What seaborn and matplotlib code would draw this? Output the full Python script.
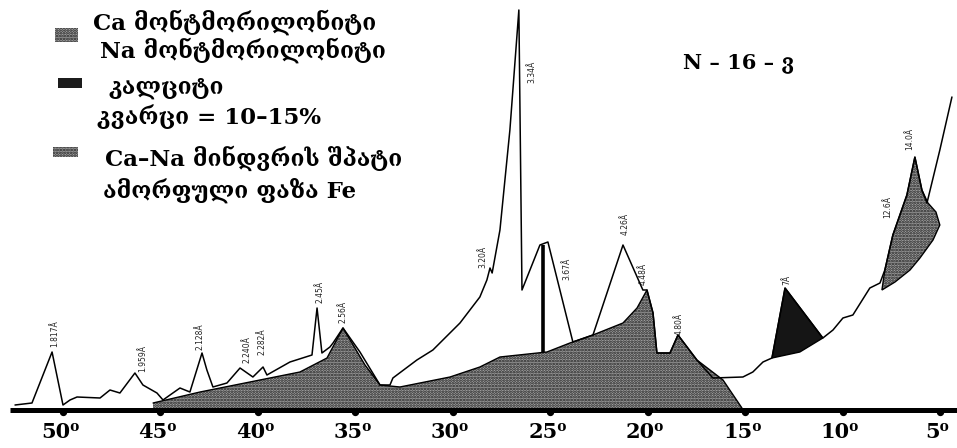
import matplotlib
matplotlib.use("Agg")
import matplotlib.pyplot as plt
from matplotlib.patches import Rectangle, Polygon
import pandas as pd
import seaborn as sns

# Total diffraction trace: 2θ (degrees) and relative intensity
two_theta = [52.46, 51.59, 50.56, 50.0, 49.64, 49.28, 48.10, 47.59, 47.08, 46.31,
             45.90, 45.18, 44.87, 44.51, 44.0, 43.49, 42.87, 42.62, 42.31, 41.59,
             40.92, 40.26, 39.74, 39.54, 38.36, 37.23, 36.97, 36.72, 36.31, 36.15,
             35.64, 34.77, 33.74, 33.23, 33.08, 31.85, 31.03, 29.64, 28.62, 28.26,
             28.10, 27.99, 27.59, 27.08, 26.62, 26.46, 25.54, 25.13, 23.85, 22.82,
             21.28, 20.26, 20.05, 19.74, 19.54, 18.87, 18.46, 17.49, 16.67, 15.13,
             14.62, 14.10, 13.64, 12.97, 11.03, 10.51, 10.0, 9.49, 8.62, 8.10,
             7.85, 7.44, 7.08, 6.72, 6.31, 5.95, 5.69, 5.03, 4.41]
intensity = [5, 7, 58, 5, 10, 13, 12, 20, 17, 37,
             25, 17, 10, 15, 22, 18, 57, 40, 23, 27,
             42, 33, 43, 35, 48, 55, 102, 57, 63, 67,
             82, 58, 25, 25, 32, 50, 60, 87, 113, 130,
             142, 137, 180, 280, 400, 120, 165, 168, 68, 75,
             165, 120, 120, 97, 57, 57, 75, 50, 32, 33,
             38, 48, 52, 122, 72, 80, 92, 95, 122, 127,
             140, 175, 195, 215, 253, 220, 207, 260, 313]

# Smectite / feldspar / amorphous envelope
bg_theta = [45.38, 42.97, 37.85, 36.46, 35.64, 34.51, 33.74, 32.72, 30.15, 28.62,
            27.59, 25.18, 24.0, 22.82, 21.28, 20.56, 20.05, 19.74, 19.54, 18.87,
            18.46, 17.49, 16.15, 15.18]
bg_int = [7, 18, 38, 52, 82, 45, 25, 23, 33, 43,
          53, 58, 67, 75, 87, 102, 120, 97, 57, 57,
          75, 50, 30, 2]

# Calcite reflection outline
calcite_theta = [13.64, 12.97, 11.03, 12.21]
calcite_int = [52, 122, 72, 58]

# Basal montmorillonite reflection outline
mont_theta = [8.0, 7.85, 7.44, 7.08, 6.72, 6.31, 5.95, 5.64, 5.23, 5.03,
              5.38, 6.05, 6.56, 7.33]
mont_int = [120, 140, 175, 195, 215, 253, 220, 207, 198, 185,
            170, 152, 140, 128]

# Strong line at 25.4°
line_theta = 25.38
line_top = 165
line_base = 58

# d-spacing annotations
label_theta = [50.41, 45.90, 42.97, 40.56, 39.79, 36.82, 35.64, 28.46, 25.95,
               24.15, 21.18, 20.26, 18.41, 12.87, 7.69, 6.56]
label_base = [63, 38, 60, 47, 55, 107, 87, 142, 327,
              130, 175, 125, 75, 125, 192, 260]
label_text = ["1.817Å", "1.959Å", "2.128Å", "2.240Å", "2.282Å", "2.45Å", "2.56Å",
              "3.20Å", "3.34Å", "3.67Å", "4.26Å", "4.48Å", "4.80Å", "7Å",
              "12.6Å", "14.0Å"]

tick_values = [50, 45, 40, 35, 30, 25, 20, 15, 10, 5]

legend_lines = ["Ca მონტმორილონიტი", "Na მონტმორილონიტი", "კალციტი",
                "კვარცი = 10–15%", "Ca–Na მინდვრის შპატი", "ამორფული ფაზა Fe"]
sample_name = "N – 16 – ვ"

sns.set_theme(style="white")
plt.rcParams["font.family"] = ["DejaVu Serif", "DejaVu Sans"]
plt.rcParams["hatch.linewidth"] = 1.3

fig = plt.figure(figsize=(9.57, 4.48), dpi=100)
ax = fig.add_axes([0, 0, 1, 1])

stipple = dict(facecolor="#a3a3a3", edgecolor="#1e1e1e", hatch="......", linewidth=0)

# amorphous envelope
ax.fill_between(bg_theta, 0, bg_int, **stipple, zorder=2)
ax.plot(bg_theta, bg_int, color="black", lw=1.0, zorder=3)

# basal reflection
ax.add_patch(Polygon(list(zip(mont_theta, mont_int)), closed=True, zorder=2, **stipple))
ax.add_patch(Polygon(list(zip(mont_theta, mont_int)), closed=True, fill=False,
                     edgecolor="black", lw=1.0, zorder=3))

# calcite
ax.add_patch(Polygon(list(zip(calcite_theta, calcite_int)), closed=True,
                     facecolor="#151515", edgecolor="black", lw=1.0, zorder=3))

# full trace
df = pd.DataFrame({"two_theta": two_theta, "intensity": intensity})
sns.lineplot(data=df, x="two_theta", y="intensity", sort=False, estimator=None,
             color="black", lw=1.1, ax=ax, zorder=4)
ax.set_xlim(53.23, 4.15)
ax.set_ylim(-38, 410)
ax.set_axis_off()

ax.vlines(line_theta, line_base, line_top, color="black", lw=2.6, zorder=5)

# baseline axis with tick bumps
ax.plot([52.7, 4.15], [0, 0], color="black", lw=3.6, solid_capstyle="butt", zorder=6)
ax.scatter(tick_values, [-2] * len(tick_values), s=18, color="black", zorder=6)
for t in tick_values:
    ax.text(t + 0.15, -22, f"{t}⁰", ha="center", va="center", fontsize=15,
            fontweight="bold", color="black")

for th, b, s in zip(label_theta, label_base, label_text):
    ax.text(th, b, s, rotation=90, ha="center", va="bottom", fontsize=5.5,
            color="#222222", family="DejaVu Sans")

# legend block
tf = ax.transAxes
def px(x, y):
    return x / 957, 1 - y / 448

legend_pos = [(93, 22), (100, 50), (108, 88), (97, 117), (105, 158), (103, 190)]
for (x, y), s in zip(legend_pos, legend_lines):
    ax.text(*px(x, y), s, transform=tf, ha="left", va="center", fontsize=16.5,
            fontweight="bold", color="black")

swatches = [((55, 42), 23, 14, stipple), ((58, 88), 24, 10,
             dict(facecolor="#1c1c1c", edgecolor="#1c1c1c", linewidth=0)),
            ((53, 157), 25, 10, stipple)]
for (x, y), w, h, style in swatches:
    x0, y0 = px(x, y)
    ax.add_patch(Rectangle((x0, y0), w / 957, h / 448, transform=tf, **style))

ax.text(*px(683, 63), sample_name, transform=tf, ha="left", va="center",
        fontsize=15, fontweight="bold", color="black")

fig.savefig("out.png", dpi=100)
